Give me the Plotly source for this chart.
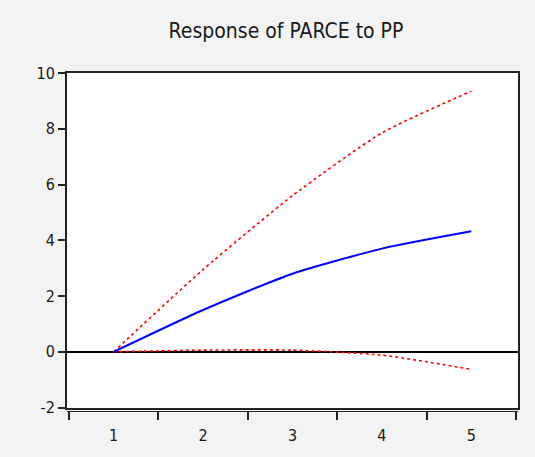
import plotly.graph_objects as go

periods = [1, 2, 3, 4, 5]
response = [0.0, 1.5, 2.8, 3.7, 4.32]
upper_band = [0.0, 2.95, 5.6, 7.85, 9.35]
lower_band = [0.0, 0.06, 0.06, -0.12, -0.63]

y_ticks = [-2, 0, 2, 4, 6, 8, 10]
y_tick_labels = ["-2", "0", "2", "4", "6", "8", "10"]
x_boundaries = [0.5, 1.5, 2.5, 3.5, 4.5, 5.5]
title_text = "Response of PARCE to PP"

FONT = "Liberation Sans Narrow, Arial Narrow, DejaVu Sans Condensed, sans-serif"
xr = [0.478, 5.522]

fig = go.Figure()
fig.add_trace(go.Scatter(x=periods, y=upper_band, mode="lines",
                         line=dict(color="#ff0000", width=1.6, dash="dot",
                                   shape="spline", smoothing=0.6),
                         showlegend=False))
fig.add_trace(go.Scatter(x=periods, y=lower_band, mode="lines",
                         line=dict(color="#ff0000", width=1.6, dash="dot",
                                   shape="spline", smoothing=0.6),
                         showlegend=False))
fig.add_trace(go.Scatter(x=periods, y=response, mode="lines",
                         line=dict(color="#0000ff", width=2,
                                   shape="spline", smoothing=0.6),
                         showlegend=False))
# invisible traces to activate helper axes
fig.add_trace(go.Scatter(x=[periods[0]], y=[response[0]], xaxis="x2", mode="markers",
                         marker=dict(opacity=0), showlegend=False, hoverinfo="skip"))
fig.add_trace(go.Scatter(x=[periods[0]], y=[response[0]], xaxis="x3", mode="markers",
                         marker=dict(opacity=0), showlegend=False, hoverinfo="skip"))

fig.update_layout(
    width=535, height=457,
    margin=dict(l=67, r=17, t=73, b=39),
    paper_bgcolor="#f3f3f3",
    plot_bgcolor="#ffffff",
    font=dict(family=FONT, size=16, color="#1a1a1a"),
    title=dict(text=title_text, x=0.4856, xref="paper", xanchor="center",
               y=1 - 31 / 457, yref="container", yanchor="middle",
               font=dict(family=FONT, size=21, color="#1a1a1a")),
    xaxis=dict(range=xr, showgrid=False, zeroline=False, showticklabels=False,
               ticks="", showline=True, mirror=True, linecolor="#222222", linewidth=2),
    xaxis2=dict(range=xr, overlaying="x", anchor="free", position=0, side="bottom",
                showgrid=False, zeroline=False, showticklabels=False,
                tickmode="array", tickvals=x_boundaries, ticks="outside",
                ticklen=8, tickwidth=2, tickcolor="#222222",
                showline=True, linecolor="#222222", linewidth=1),
    xaxis3=dict(range=xr, overlaying="x", anchor="free", position=0, side="bottom",
                showgrid=False, zeroline=False, showline=False,
                tickmode="array", tickvals=periods, ticktext=[str(p) for p in periods],
                ticks="outside", ticklen=10, tickcolor="rgba(0,0,0,0)",
                tickfont=dict(family=FONT, size=16, color="#1a1a1a")),
    yaxis=dict(range=[-2, 10], domain=[0.0102, 1], showgrid=False,
               tickmode="array", tickvals=y_ticks, ticktext=y_tick_labels,
               ticks="outside", ticklen=7,
               tickwidth=2, tickcolor="#222222",
               zeroline=True, zerolinecolor="#000000", zerolinewidth=2,
               showline=True, mirror=True, linecolor="#222222", linewidth=2,
               tickfont=dict(family=FONT, size=16, color="#1a1a1a")),
)

fig.write_html(
    "out.html",
    config={"displayModeBar": False},
    post_script="document.body.style.margin='0';document.body.style.background='#f3f3f3';",
)
